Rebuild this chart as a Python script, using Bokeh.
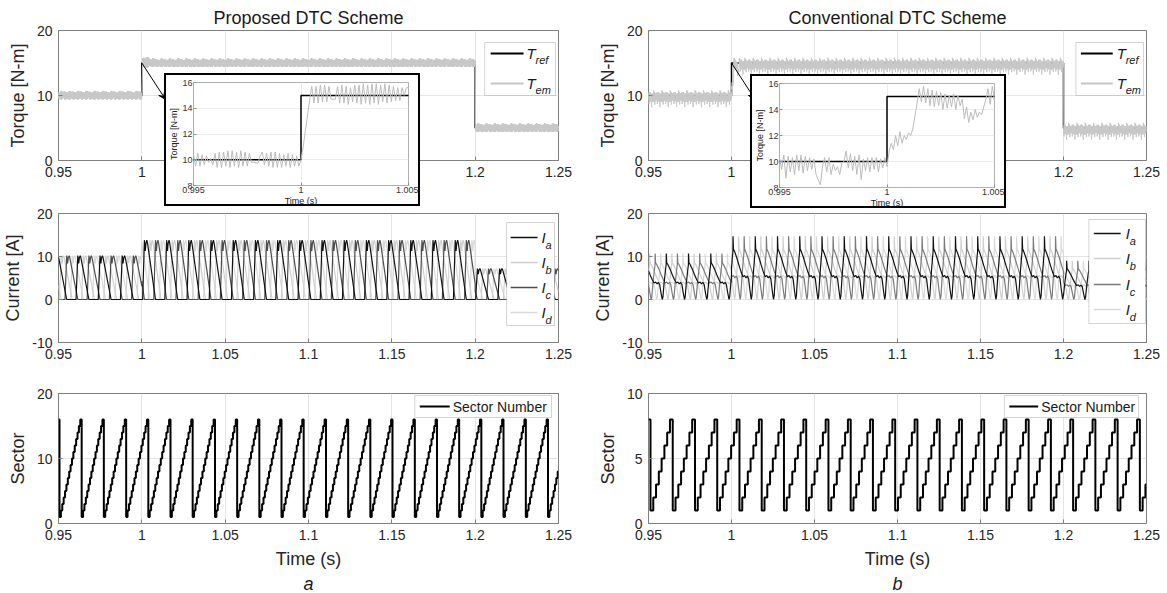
import numpy as np
from bokeh.plotting import figure
from bokeh.layouts import column, row
from bokeh.models import FixedTicker, Label, BoxAnnotation, Arrow, VeeHead, Title, Range1d
from bokeh.embed import file_html
from bokeh.resources import INLINE

FONT = "Liberation Sans"
TXT = "#262626"
AX = "#7f7f7f"
GRID = "#e4e4e4"

# ------------------------------------------------------------------ data
x_ticks = [0.95, 1.0, 1.05, 1.1, 1.15, 1.2, 1.25]
x_tick_labels = ["0.95", "1", "1.05", "1.1", "1.15", "1.2", "1.25"]
torque_ticks = [0, 10, 20]
current_ticks = [-10, 0, 10, 20]
sector_ticks_a = [0, 10, 20]
sector_ticks_b = [0, 5, 10]
inset_x_ticks = [0.995, 1.0, 1.005]
inset_x_labels = ["0.995", "1", "1.005"]
inset_y_ticks = [8, 10, 12, 14, 16]

# torque reference (step changes)
tref_time = [0.95, 1.0, 1.0, 1.2, 1.2, 1.25]
tref_value = [10, 10, 15, 15, 5, 5]

# electromagnetic torque, one sample every 0.1 ms from 0.995 s
inset_t0 = 0.995
inset_dt = 0.0001
tem_inset_a = [10.4, 9.5, 10.5, 9.5, 10.4, 9.6, 10.3, 9.8, 10.1, 9.6,
               10.5, 9.4, 10.6, 9.4, 10.6, 9.5, 10.7, 9.4, 10.7, 9.5,
               10.6, 9.4, 10.7, 9.5, 10.6, 9.5, 10.5, 9.8, 9.8, 9.75,
               9.75, 10.3, 10.6, 9.6, 10.5, 9.5, 10.6, 9.4, 10.6, 9.4,
               10.5, 9.4, 10.4, 9.5, 10.5, 9.4, 10.4, 9.5, 10.3, 9.5,
               10.0, 11.0, 12.2, 13.4, 14.6, 15.7, 14.4, 15.7, 14.4, 15.8,
               14.5, 15.8, 14.5, 15.7, 14.7, 14.7, 14.7, 15.7, 14.4, 15.8,
               14.4, 15.7, 14.3, 15.6, 14.5, 15.8, 14.4, 15.8, 14.3, 15.9,
               14.4, 15.8, 14.3, 15.9, 14.4, 15.9, 14.3, 15.8, 14.5, 15.9,
               14.4, 15.8, 14.5, 15.7, 14.6, 15.6, 14.6, 15.6, 15.0, 15.6,
               15.6]
tem_inset_b = [10.3, 9.4, 10.5, 8.7, 10.4, 9.2, 10.3, 9.0, 10.5, 9.3,
               10.5, 9.1, 10.4, 9.3, 10.3, 9.4, 10.2, 9.0, 8.6, 8.2,
               9.6, 10.3, 9.2, 10.3, 9.0, 9.8, 9.3, 9.6, 9.0, 9.9,
               10.0, 10.8, 9.5, 10.6, 9.3, 10.4, 9.0, 10.5, 8.6, 10.2,
               9.3, 10.3, 9.2, 10.3, 9.4, 10.3, 9.2, 10.2, 9.5, 10.3,
               9.6, 10.8, 11.4, 10.9, 12.0, 11.2, 12.3, 11.4, 12.0, 11.7,
               12.2, 12.0, 12.5, 13.5, 14.5, 15.6, 14.6, 15.8, 14.5, 15.6,
               14.3, 15.5, 14.2, 15.4, 14.3, 15.3, 14.0, 15.2, 14.1, 15.1,
               14.2, 15.2, 14.0, 15.1, 14.3, 14.8, 13.3, 14.2, 13.0, 13.8,
               13.2, 14.0, 13.4, 13.8, 13.6, 14.2, 14.8, 15.6, 14.4, 15.8,
               14.6]

# phase currents: normalised pulse over one period
period_cur_a = 0.01332
first_cur_a = 0.9472            # rising edge of I_a
pulse_phase_a = [0.00, 0.08, 0.12, 0.15, 0.19, 0.22, 0.58, 1.00]
pulse_shape_a = [0.00, 1.00, 0.82, 0.95, 1.00, 0.95, 0.00, 0.00]
peak_edges = [0.95, 1.0, 1.2, 1.25]
peak_a = [10.2, 13.8, 7.2]

period_cur_b = 0.0134
first_cur_b = 0.9449            # minimum of I_a
pulse_phase_b = [0.00, 0.03, 0.08, 0.14, 0.175, 0.18, 0.20, 0.25, 0.35, 0.45,
                 0.55, 0.63, 0.70, 0.76, 0.82, 0.88, 0.94, 1.00]
pulse_shape_b = [0.00, 0.06, 0.35, 0.62, 0.76, 1.00, 0.80, 0.76, 0.66, 0.54,
                 0.43, 0.36, 0.38, 0.34, 0.37, 0.33, 0.15, 0.00]
peak_b = [10.7, 14.7, 9.0]

phase_names = ["a", "b", "c", "d"]
phase_offsets = [0.0, 0.25, 0.5, 0.75]

# sector number: instants at which the sector wraps back to 1
sector_drops_a = [0.9506, 0.9639, 0.9772, 0.9906, 1.0039, 1.0172, 1.0305, 1.0439,
                  1.0572, 1.0705, 1.0838, 1.0971, 1.1105, 1.1238, 1.1371, 1.1504,
                  1.1638, 1.1771, 1.1904, 1.2037, 1.2170, 1.2304, 1.2437]
sector_levels_a = [1, 2, 3, 4, 5, 6, 7, 8, 9, 10, 11, 12, 13, 14, 15, 16]
sector_drops_b = [0.9512, 0.9646, 0.9780, 0.9914, 1.0048, 1.0182, 1.0316, 1.0450,
                  1.0584, 1.0718, 1.0852, 1.0986, 1.1120, 1.1254, 1.1388, 1.1522,
                  1.1656, 1.1790, 1.1924, 1.2058, 1.2192, 1.2326, 1.2460]
sector_levels_b = [1, 2, 3, 4, 5, 6, 7, 8]

# ------------------------------------------------------------------ series builders
T0, T1 = 0.95, 1.25


def inset_series(vals):
    t = inset_t0 + inset_dt * np.arange(len(vals))
    return t, np.array(vals, dtype=float)


def main_tem(vals):
    n_rip = 50
    ripple = np.array(vals[:n_rip]) - tref_value[0]
    n = int(round((T1 - T0) / inset_dt)) + 1
    t = T0 + inset_dt * np.arange(n)
    base = np.where(t < tref_time[1] - 1e-9, tref_value[0],
                    np.where(t < tref_time[3] + 2e-4, tref_value[2], tref_value[4])).astype(float)
    y = base + ripple[np.arange(n) % n_rip]
    ti, yi = inset_series(vals)
    i0 = int(round((inset_t0 - T0) / inset_dt))
    y[i0:i0 + len(yi)] = yi
    return t, y


def phase_current(first, period, offset, ph_pts, sh_pts, peaks):
    ph_pts = np.asarray(ph_pts, dtype=float)
    k0 = int(np.floor((T0 - first) / period - offset)) - 1
    k1 = int(np.ceil((T1 - first) / period - offset)) + 1
    ts = []
    for k in range(k0, k1 + 1):
        ts.extend(first + (k + offset + ph_pts[:-1]) * period)
    ts += list(peak_edges) + [e - 1e-7 for e in peak_edges[1:-1]]
    ts = np.unique(np.clip(np.array(ts), T0, T1))
    ph = ((ts - first) / period - offset) % 1.0
    shape = np.interp(ph, ph_pts, sh_pts)
    idx = np.clip(np.searchsorted(peak_edges, ts, side="right") - 1, 0, len(peaks) - 1)
    return ts, shape * np.array(peaks)[idx]


def sector_path(drops, levels):
    xs, ys = [T0], [levels[-1]]
    for k, d in enumerate(drops):
        dur = (drops[k + 1] - d) if k + 1 < len(drops) else (drops[k] - drops[k - 1])
        step = dur / len(levels)
        for j, lv in enumerate(levels):
            ts = d + j * step
            if ts > T1:
                break
            xs += [ts, ts]
            ys += [ys[-1], lv]
    xs.append(T1)
    ys.append(ys[-1])
    return xs, ys


# ------------------------------------------------------------------ styling helpers
def overrides(ticks, labels=None):
    if labels is None:
        labels = [str(t) for t in ticks]
    return {t: l for t, l in zip(ticks, labels)}


def make_fig(width, height, mb, xr, yr, yticks, ylabel, title=None):
    p = figure(width=width, height=height, x_range=Range1d(*xr), y_range=Range1d(*yr),
               output_backend="svg", toolbar_location=None,
               min_border_left=mb[0], min_border_right=mb[1],
               min_border_top=mb[2], min_border_bottom=mb[3])
    p.background_fill_color = "white"
    p.border_fill_color = "white"
    p.outline_line_color = AX
    p.outline_line_width = 1
    p.outline_line_alpha = 1
    for ax in (p.xaxis[0], p.yaxis[0]):
        ax.axis_line_color = None
        ax.major_tick_in = 4
        ax.major_tick_out = 0
        ax.major_tick_line_color = AX
        ax.minor_tick_line_color = None
        ax.major_label_text_font = FONT
        ax.major_label_text_font_size = "14px"
        ax.major_label_text_color = TXT
        ax.major_label_standoff = 6
        ax.axis_label_text_font = FONT
        ax.axis_label_text_font_size = "18px"
        ax.axis_label_text_font_style = "normal"
        ax.axis_label_text_color = TXT
        ax.axis_label_standoff = 6
    p.xaxis[0].ticker = FixedTicker(ticks=x_ticks)
    p.xaxis[0].major_label_overrides = overrides(x_ticks, x_tick_labels)
    p.yaxis[0].ticker = FixedTicker(ticks=yticks)
    p.yaxis[0].major_label_overrides = overrides(yticks)
    p.yaxis[0].axis_label = ylabel
    p.xgrid.grid_line_color = GRID
    p.ygrid.grid_line_color = GRID
    p.xgrid.ticker = FixedTicker(ticks=x_ticks)
    p.ygrid.ticker = FixedTicker(ticks=yticks)
    if title:
        p.title.text = title
        p.title.text_font = FONT
        p.title.text_font_size = "18px"
        p.title.text_font_style = "normal"
        p.title.text_color = "#1a1a1a"
        p.title.align = "center"
        p.title.standoff = 5
    return p


def add_legend(p, xr, yr, fw, fh, box, line_x, text_x, entries, main_size="15px", sub_size="11px",
               sub_dx=5, sub_dy=-6):
    def d(px, py):
        return (xr[0] + px / fw * (xr[1] - xr[0]), yr[1] - py / fh * (yr[1] - yr[0]))
    l, t = d(box[0], box[1])
    r, b = d(box[2], box[3])
    p.add_layout(BoxAnnotation(left=l, right=r, top=t, bottom=b, fill_color="white", fill_alpha=1,
                               line_color="#6f6f6f", line_width=1))
    for py, color, lw, main, sub in entries:
        x0, y0 = d(line_x[0], py)
        x1, _ = d(line_x[1], py)
        p.add_layout(Arrow(start=None, end=None, x_start=x0, y_start=y0, x_end=x1, y_end=y0,
                           line_color=color, line_width=lw))
        tx, _ = d(text_x, py)
        style = "italic" if sub is not None else "normal"
        p.add_layout(Label(x=tx, y=y0, text=main, text_font=FONT, text_font_size=main_size,
                           text_font_style=style, text_color="#1a1a1a", text_baseline="middle",
                           text_align="left"))
        if sub is not None:
            p.add_layout(Label(x=tx, y=y0, x_offset=sub_dx, y_offset=sub_dy, text=sub, text_font=FONT,
                               text_font_size=sub_size, text_font_style="italic", text_color="#1a1a1a",
                               text_baseline="middle", text_align="left"))


def make_inset(vals, css_left, css_top, mb, width=256, height=133):
    p = figure(width=width, height=height, x_range=Range1d(0.995, 1.005), y_range=Range1d(8, 16),
               output_backend="svg", toolbar_location=None,
               min_border_left=mb[0], min_border_right=mb[1], min_border_top=mb[2], min_border_bottom=mb[3])
    p.styles = {"position": "absolute", "left": f"{css_left}px", "top": f"{css_top}px",
                "border": "2px solid black", "z-index": "10", "background-color": "white"}
    p.background_fill_color = "white"
    p.border_fill_color = "white"
    p.outline_line_color = "#b0b0b0"
    for ax in (p.xaxis[0], p.yaxis[0]):
        ax.axis_line_color = None
        ax.major_tick_in = 3
        ax.major_tick_out = 0
        ax.major_tick_line_color = "#909090"
        ax.minor_tick_line_color = None
        ax.major_label_text_font = FONT
        ax.major_label_text_font_size = "9px"
        ax.major_label_text_color = "#333333"
        ax.major_label_standoff = 1
        ax.axis_label_text_font = FONT
        ax.axis_label_text_font_size = "9px"
        ax.axis_label_text_font_style = "normal"
        ax.axis_label_text_color = "#222222"
        ax.axis_label_standoff = 0
    p.xaxis[0].ticker = FixedTicker(ticks=inset_x_ticks)
    p.xaxis[0].major_label_overrides = overrides(inset_x_ticks, inset_x_labels)
    p.xaxis[0].axis_label = "Time (s)"
    p.yaxis[0].ticker = FixedTicker(ticks=inset_y_ticks)
    p.yaxis[0].major_label_overrides = overrides(inset_y_ticks)
    p.yaxis[0].axis_label = "Torque [N-m]"
    p.xgrid.grid_line_color = "#ededed"
    p.ygrid.grid_line_color = "#ededed"
    p.xgrid.ticker = FixedTicker(ticks=inset_x_ticks)
    p.ygrid.ticker = FixedTicker(ticks=inset_y_ticks)
    p.line(tref_time, tref_value, line_color="black", line_width=1.5)
    ti, yi = inset_series(vals)
    p.line(ti, yi, line_color="#bcbcbc", line_width=1)
    return p


# ------------------------------------------------------------------ figures
FW = 501
XR = (T0, T1)
cols = []
specs = [
    dict(side="a", width=590, mbl=57, mbr=32, title="Proposed DTC Scheme", tem=tem_inset_a,
         cur=(first_cur_a, period_cur_a, pulse_phase_a, pulse_shape_a, peak_a),
         ic_color="#4d4d4d", sector=(sector_drops_a, sector_levels_a), sect_yr=(0, 20),
         sect_ticks=sector_ticks_a,
         tleg=dict(box=(427, 12, 498, 65), line_x=(433, 466), text_x=469, ys=(23, 53)),
         cleg=dict(box=(449, 9, 497, 112), line_x=(453, 480), text_x=484, ys=(24, 49, 74, 99)),
         sleg=dict(box=(357, 2, 494, 24), line_x=(362, 392), text_x=395, y=13)),
    dict(side="b", width=577, mbl=55, mbr=21, title="Conventional DTC Scheme", tem=tem_inset_b,
         cur=(first_cur_b, period_cur_b, pulse_phase_b, pulse_shape_b, peak_b),
         ic_color="#7a7a7a", sector=(sector_drops_b, sector_levels_b), sect_yr=(0, 10),
         sect_ticks=sector_ticks_b,
         tleg=dict(box=(430, 12, 498, 65), line_x=(435, 467), text_x=471, ys=(23, 53)),
         cleg=dict(box=(443, 6, 500, 110), line_x=(448, 475), text_x=480, ys=(20, 45, 71, 96)),
         sleg=dict(box=(358, 2, 493, 24), line_x=(363, 392), text_x=395, y=13)),
]

for s in specs:
    # torque
    pt = make_fig(s["width"], 190, (s["mbl"], s["mbr"], 30, 30), XR, (0, 20), torque_ticks,
                  "Torque [N-m]", s["title"])
    pt.line(tref_time, tref_value, line_color="black", line_width=1.5)
    tt, ty = main_tem(s["tem"])
    pt.line(tt, ty, line_color="#c8c8c8", line_width=1)
    tl = s["tleg"]
    add_legend(pt, XR, (0, 20), FW, 130, tl["box"], tl["line_x"], tl["text_x"],
               [(tl["ys"][0], "black", 2, "T", "ref"), (tl["ys"][1], "#c6c6c6", 2, "T", "em")],
               sub_dx=9)
    pt.add_layout(Arrow(end=VeeHead(size=7, fill_color="black", line_color="black"),
                        x_start=tref_time[2], y_start=tref_value[2],
                        x_end=tref_time[2] + 0.0142, y_end=9.4, line_color="black", line_width=1))

    # currents
    pc = make_fig(s["width"], 182, (s["mbl"], s["mbr"], 23, 30), XR, (-10, 20), current_ticks,
                  "Current [A]")
    first, period, pp, ps, pk = s["cur"]
    colors = {"a": "#111111", "b": "#cfcfcf", "c": s["ic_color"], "d": "#d9d9d9"}
    for name in ["d", "b", "c", "a"]:
        off = phase_offsets[phase_names.index(name)]
        cx, cy = phase_current(first, period, off, pp, ps, pk)
        pc.line(cx, cy, line_color=colors[name], line_width=1.2)
    cl = s["cleg"]
    add_legend(pc, XR, (-10, 20), FW, 129, cl["box"], cl["line_x"], cl["text_x"],
               [(y, colors[n], 1.5, "I", n) for y, n in zip(cl["ys"], phase_names)],
               sub_dx=4, sub_dy=-7)

    # sector
    syr = s["sect_yr"]
    ps_ = make_fig(s["width"], 221, (s["mbl"], s["mbr"], 21, 70), XR, syr, s["sect_ticks"], "Sector")
    ps_.xaxis[0].axis_label = "Time (s)"
    sx, sy = sector_path(*s["sector"])
    ps_.line(sx, sy, line_color="black", line_width=2)
    sl = s["sleg"]
    add_legend(ps_, XR, syr, FW, 130, sl["box"], sl["line_x"], sl["text_x"],
               [(sl["y"], "black", 2, "Sector Number", None)], main_size="14px")
    ps_.add_layout(Title(text=s["side"], align="center", text_font=FONT, text_font_size="18px",
                         text_font_style="italic", text_color="#1a1a1a", standoff=0), "below")
    cols.append(column(pt, pc, ps_))

ins_a = make_inset(tem_inset_a, 164, 73, (24, 14, 7, 20))
ins_b = make_inset(tem_inset_b, 750, 74, (24, 13, 7, 20), height=134)

root = column(row(cols[0], cols[1]), ins_a, ins_b)

open("out.html", "w").write(file_html(root, INLINE))
